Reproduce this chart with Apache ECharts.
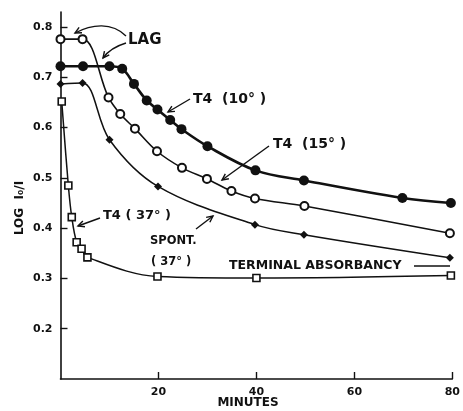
<!DOCTYPE html>
<html>
<head>
<meta charset="utf-8">
<script src="https://cdn.jsdelivr.net/npm/echarts@6/dist/echarts.min.js"></script>
<style>
html, body { margin: 0; padding: 0; background: #fff; }
#chart { width: 463px; height: 411px; }
</style>
</head>
<body>
<div id="chart"></div>
<script>
// T4 (10°) - filled circles
const t10Min = [0, 4.6, 10, 12.6, 15, 17.6, 19.8, 22.4, 24.7, 30, 39.8, 49.7, 69.8, 79.7]
const t10Val = [0.722, 0.722, 0.722, 0.717, 0.687, 0.654, 0.636, 0.615, 0.597, 0.563, 0.515, 0.495, 0.46, 0.45]
// T4 (15°) - open circles
const t15Min = [0, 4.5, 9.8, 12.2, 15.2, 19.7, 24.8, 29.9, 34.9, 39.7, 49.8, 79.5]
const t15Val = [0.776, 0.776, 0.66, 0.627, 0.598, 0.553, 0.52, 0.498, 0.474, 0.459, 0.444, 0.39]
// SPONT. (37°) - small filled marks
const spontMin = [0, 4.5, 10, 19.9, 39.7, 49.7, 79.5]
const spontVal = [0.687, 0.689, 0.576, 0.483, 0.407, 0.387, 0.341]
// T4 (37°) - open squares
const t37Min = [0.25, 1.6, 2.3, 3.3, 4.3, 5.5, 19.8, 40, 79.7]
const t37Val = [0.652, 0.485, 0.422, 0.372, 0.359, 0.342, 0.304, 0.301, 0.306]

const xTicks = [20, 40, 60, 80]
const yTicks = [0.2, 0.3, 0.4, 0.5, 0.6, 0.7, 0.8]

const ink = '#111'
const font = '"DejaVu Sans", sans-serif'

function pairs(xs, ys){
    return xs.map((x, i) => [x, ys[i]])
}

function arrowHead(x1, y1, x2, y2){
    // small V head at (x2,y2) pointing along (x1,y1)->(x2,y2)
    let a = Math.atan2(y2 - y1, x2 - x1), l = 7, w = 0.45
    return {
        type: 'polyline',
        shape: { points: [
            [x2 - l * Math.cos(a - w), y2 - l * Math.sin(a - w)],
            [x2, y2],
            [x2 - l * Math.cos(a + w), y2 - l * Math.sin(a + w)]
        ]},
        style: { stroke: ink, lineWidth: 1.4, fill: null }
    }
}
function line(x1, y1, x2, y2){
    return { type: 'line', shape: { x1, y1, x2, y2 }, style: { stroke: ink, lineWidth: 1.4 } }
}
function label(text, x, y, size, align, rot){
    return {
        type: 'text',
        x: x, y: y,
        rotation: rot || 0,
        style: { text: text, fill: ink, font: 'bold ' + size + 'px ' + font, textAlign: align || 'left', textVerticalAlign: 'middle' }
    }
}

const chart = echarts.init(document.getElementById('chart'))

const option = {
    animation: false,
    backgroundColor: '#fff',
    grid: { left: 60.5, right: 7, top: 12, bottom: 32 },
    xAxis: {
        type: 'value',
        min: 0,
        max: 80,
        interval: 20,
        splitLine: { show: false },
        axisLine: { lineStyle: { color: ink, width: 1.6 } },
        axisTick: { inside: true, length: 7, lineStyle: { color: ink, width: 1.4 }, customValues: xTicks },
        axisLabel: { color: ink, fontSize: 11, fontWeight: 'bold', fontFamily: font, margin: 8, customValues: xTicks }
    },
    yAxis: {
        type: 'value',
        min: 0.1,
        max: 0.83,
        interval: 0.1,
        splitLine: { show: false },
        axisLine: { show: true, lineStyle: { color: ink, width: 1.6 } },
        axisTick: { inside: true, length: 7, lineStyle: { color: ink, width: 1.4 }, customValues: yTicks },
        axisLabel: {
            color: ink, fontSize: 11, fontWeight: 'bold', fontFamily: font, margin: 8,
            customValues: yTicks,
            formatter: v => v.toFixed(1)
        }
    },
    series: [
        {
            name: 'T4 (10°)',
            type: 'line',
            smooth: 0.35,
            symbol: 'circle',
            symbolSize: 10,
            itemStyle: { color: ink },
            lineStyle: { color: ink, width: 2.6 },
            data: pairs(t10Min, t10Val)
        },
        {
            name: 'T4 (15°)',
            type: 'line',
            smooth: 0.35,
            symbol: 'circle',
            symbolSize: 8,
            itemStyle: { color: '#fff', borderColor: ink, borderWidth: 2 },
            lineStyle: { color: ink, width: 1.6 },
            data: pairs(t15Min, t15Val)
        },
        {
            name: 'SPONT. (37°)',
            type: 'line',
            smooth: 0.35,
            symbol: 'diamond',
            symbolSize: 8,
            itemStyle: { color: ink },
            lineStyle: { color: ink, width: 1.5 },
            data: pairs(spontMin, spontVal)
        },
        {
            name: 'T4 (37°)',
            type: 'line',
            smooth: 0.35,
            symbol: 'rect',
            symbolSize: 7,
            itemStyle: { color: '#fff', borderColor: ink, borderWidth: 1.6 },
            lineStyle: { color: ink, width: 1.5 },
            data: pairs(t37Min, t37Val)
        }
    ],
    graphic: [
        // LAG
        label('LAG', 128, 40, 15),
        { type: 'bezierCurve', shape: { x1: 126, y1: 36, cpx1: 112, cpy1: 22, cpx2: 92, cpy2: 24, x2: 75, y2: 33 }, style: { stroke: ink, lineWidth: 1.4, fill: null } },
        arrowHead(88, 26, 75, 33),
        { type: 'bezierCurve', shape: { x1: 126, y1: 43, cpx1: 116, cpy1: 46, cpx2: 108, cpy2: 51, x2: 103, y2: 58 }, style: { stroke: ink, lineWidth: 1.4, fill: null } },
        arrowHead(110, 49, 103, 58),
        // T4 (10°)
        label('T4  (10° )', 193, 99, 14),
        line(190, 99, 168, 112),
        arrowHead(190, 99, 168, 112),
        // T4 (15°)
        label('T4  (15° )', 273, 144, 14),
        line(269, 146, 222, 180),
        arrowHead(269, 146, 222, 180),
        // T4 (37°)
        label('T4 ( 37° )', 103, 216, 13),
        line(100, 218, 78, 226),
        arrowHead(100, 218, 78, 226),
        // SPONT
        label('SPONT.', 150, 241, 11.5),
        label('( 37° )', 151, 262, 11.5),
        line(196, 229, 213, 216),
        arrowHead(196, 229, 213, 216),
        // terminal absorbancy
        label('TERMINAL ABSORBANCY', 229, 266, 12.5),
        line(414, 266, 450, 266),
        // axis names
        label('MINUTES', 248, 403, 12, 'center'),
        label('LOG  I₀/I', 20, 208, 12, 'center', Math.PI / 2)
    ]
}

chart.setOption(option)
</script>
</body>
</html>
